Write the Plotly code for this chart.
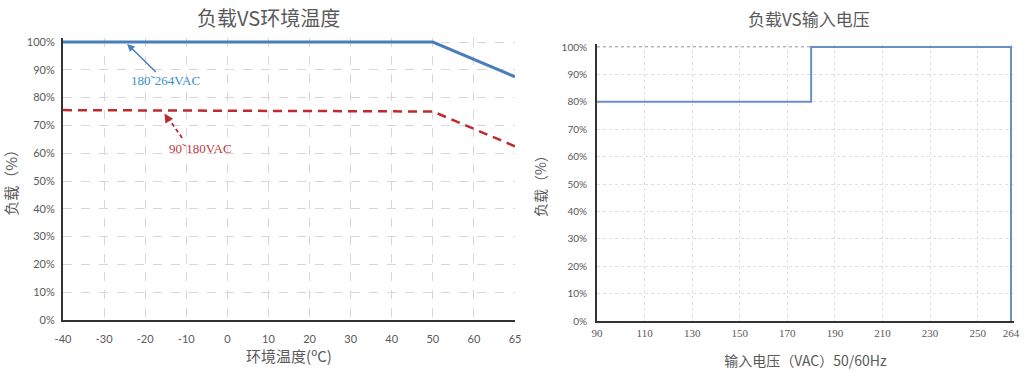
import plotly.graph_objects as go

# ---------------- data ----------------
temp_categories = ["-40", "-30", "-20", "-10", "0", "10", "20", "30", "40", "50", "60", "65"]
high_line_temp = ["-40", "50", "65"]
high_line_load = [100, 100, 87.5]
low_line_temp = ["-40", "50", "65"]
low_line_load = [75.5, 75, 62.5]

volt_x = [90, 180, 180, 264, 264]
volt_load = [80, 80, 100, 100, 0]
volt_ticks = [90, 110, 130, 150, 170, 190, 210, 230, 250, 264]
load_ticks = [0, 10, 20, 30, 40, 50, 60, 70, 80, 90, 100]
load_ticklabels = [f"{v}%" for v in load_ticks]

TITLE_FONT = dict(family="Noto Sans CJK SC", size=20, color="#5a5a5a")
TICK_FONT = dict(family="Lato, Liberation Sans", size=11, color="#595959")
CJK_AXIS = dict(family="Noto Sans CJK SC", size=14, color="#595959")

# pixel geometry (used only for layout domains)
L_PX_PER_PCT = (320 - 42) / 100.0
R_PX_PER_PCT = (321 - 47) / 100.0
R_PX_PER_V = (1011 - 597) / 174.0

fig = go.Figure()

fig.add_trace(go.Scatter(x=high_line_temp, y=high_line_load, mode="lines",
                         line=dict(color="#4a7ebb", width=3), xaxis="x", yaxis="y",
                         showlegend=False, hoverinfo="skip"))
fig.add_trace(go.Scatter(x=low_line_temp, y=low_line_load, mode="lines",
                         line=dict(color="#be2a2e", width=2.5, dash="9px,6px"), xaxis="x", yaxis="y",
                         showlegend=False, hoverinfo="skip"))
fig.add_trace(go.Scatter(x=volt_x, y=volt_load, mode="lines",
                         line=dict(color="#6a8fc6", width=2), xaxis="x2", yaxis="y2",
                         showlegend=False, hoverinfo="skip"))

grid_left = dict(showgrid=True, gridcolor="#dcd4d8", griddash="dash", gridwidth=1)
grid_right = dict(showgrid=True, gridcolor="#e6dce4", griddash="dot", gridwidth=1)

fig.update_layout(
    width=1024, height=372,
    margin=dict(l=0, r=0, t=0, b=0),
    paper_bgcolor="white", plot_bgcolor="white",
    xaxis=dict(domain=[63/1024, 515/1024], type="category",
               categoryorder="array", categoryarray=temp_categories,
               range=[0, 11], anchor="y", automargin=False,
               tickfont=TICK_FONT, ticks="", ticklabelstandoff=8,
               showline=True, linecolor="#333333", linewidth=2,
               zeroline=False, **grid_left,
               title=dict(text="环境温度(ºC)", font=dict(family="Noto Sans CJK SC", size=15, color="#595959"), standoff=7)),
    yaxis=dict(domain=[1-320/372, 1-(42 - 1.5*L_PX_PER_PCT)/372], range=[0, 101.5], anchor="x", automargin=False,
               tickvals=load_ticks, ticktext=load_ticklabels, tickfont=TICK_FONT, ticks="",
               ticklabelstandoff=4,
               showline=True, linecolor="#333333", linewidth=2, zeroline=False, **grid_left,
               title=dict(text="负载（%）", font=dict(family="Noto Sans CJK SC", size=15, color="#595959"), standoff=11)),
    xaxis2=dict(domain=[597/1024, (1011 + 1.2*R_PX_PER_V)/1024], range=[90, 265.2], anchor="y2", automargin=False,
                tickvals=volt_ticks, ticktext=[str(v) for v in volt_ticks],
                tickfont=dict(family="Liberation Serif", size=11, color="#595959"), ticks="",
                ticklabelstandoff=1,
                showline=True, linecolor="#333333", linewidth=2, zeroline=False, **grid_right,
                title=dict(text="输入电压（VAC）50/60Hz", font=CJK_AXIS, standoff=18)),
    yaxis2=dict(domain=[1-321/372, 1-(47 - 1.0*R_PX_PER_PCT)/372], range=[0, 101], anchor="x2", automargin=False,
                tickvals=load_ticks, ticktext=load_ticklabels,
                tickfont=dict(family="Lato, Liberation Sans", size=10, color="#595959"), ticks="",
                ticklabelstandoff=6,
                showline=True, linecolor="#333333", linewidth=2, zeroline=False, **grid_right,
                title=dict(text="负载（%）", font=CJK_AXIS, standoff=12)),
)

annotations = [
    dict(text="负载VS环境温度", x=268/1024, y=1-18/372, xref="paper", yref="paper",
         showarrow=False, font=TITLE_FONT, xanchor="center", yanchor="middle"),
    dict(text="负载VS输入电压", x=809/1024, y=1-19/372, xref="paper", yref="paper",
         showarrow=False, font=dict(family="Noto Sans CJK SC", size=17, color="#5a5a5a"),
         xanchor="center", yanchor="middle"),
    # blue label with arrow
    dict(text="180˜264VAC", x=1.56, y=99.3, xref="x", yref="y",
         ax=38, ay=37, showarrow=True, arrowhead=2, arrowsize=1, arrowwidth=1.5,
         arrowcolor="#4a7ebb", font=dict(family="Liberation Serif", size=13, color="#3a8fc8")),
    # red label (text only)
    dict(text="90˜180VAC", x=3.35, y=(320-148)/L_PX_PER_PCT, xref="x", yref="y",
         showarrow=False, font=dict(family="Liberation Serif", size=13, color="#c0393b")),
    # red arrow head
    dict(text="", x=2.47, y=74.3, xref="x", yref="y", ax=5, ay=8,
         showarrow=True, arrowhead=2, arrowsize=1, arrowwidth=1.8, arrowcolor="#be2a2e"),
]
fig.update_layout(annotations=annotations)

fig.update_layout(shapes=[
    dict(type="line", xref="x", yref="y", x0=2.9, y0=65.5, x1=2.52, y1=73.5,
         line=dict(color="#be2a2e", width=1.8, dash="4px,3px")),
    dict(type="line", xref="x2", yref="y2", x0=90, y0=100, x1=180, y1=100,
         line=dict(color="#666666", width=1, dash="dot"), layer="below"),
])

fig.write_html("out.html")
